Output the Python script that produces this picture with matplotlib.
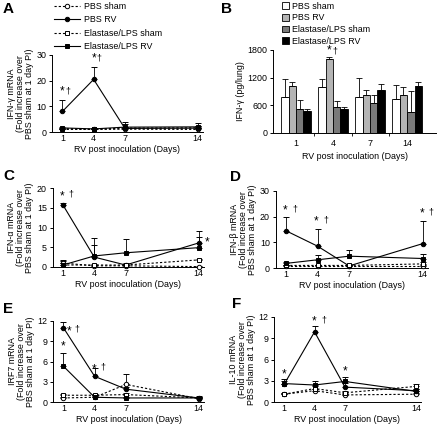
import numpy as np
import matplotlib
matplotlib.use("Agg")
import matplotlib.pyplot as plt
from matplotlib.lines import Line2D
from matplotlib.patches import Patch

plt.rcParams["font.family"] = ["Liberation Sans", "DejaVu Sans"]
plt.rcParams["font.size"] = 6.4

# ── data ─────────────────────────────────────────────────────────────────────
days = [1, 4, 7, 14]
series_names = ["PBS sham", "PBS RV", "Elastase/LPS sham", "Elastase/LPS RV"]

# A: IFN-gamma mRNA
ifng_mean = {
    "PBS sham":          [1.0, 1.0, 1.1, 1.0],
    "PBS RV":            [8.0, 20.5, 1.4, 1.5],
    "Elastase/LPS sham": [1.3, 1.1, 1.5, 1.6],
    "Elastase/LPS RV":   [1.6, 1.2, 1.9, 2.0],
}
ifng_err = {
    "PBS sham":          [0.3, 0.3, 0.5, 0.4],
    "PBS RV":            [4.5, 5.0, 2.5, 1.0],
    "Elastase/LPS sham": [0.4, 0.3, 0.6, 0.8],
    "Elastase/LPS RV":   [0.4, 0.3, 1.2, 1.5],
}

# B: IFN-gamma protein (pg/lung)
prot_mean = {
    "PBS sham":          [780, 990, 770, 740],
    "PBS RV":            [1010, 1610, 820, 830],
    "Elastase/LPS sham": [520, 570, 650, 450],
    "Elastase/LPS RV":   [480, 530, 940, 1030],
}
prot_err = {
    "PBS sham":          [390, 190, 430, 310],
    "PBS RV":            [100, 30, 110, 160],
    "Elastase/LPS sham": [190, 130, 170, 470],
    "Elastase/LPS RV":   [40, 40, 120, 70],
}

# C: IFN-alpha mRNA
ifna_mean = {
    "PBS sham":          [1.0, 0.3, 0.3, 0.1],
    "PBS RV":            [15.7, 2.5, 0.5, 6.1],
    "Elastase/LPS sham": [0.5, 0.5, 0.5, 1.8],
    "Elastase/LPS RV":   [0.5, 2.8, 3.6, 4.9],
}
ifna_err = {
    "PBS sham":          [0.8, 0.2, 0.2, 0.2],
    "PBS RV":            [0.5, 4.8, 0.4, 3.0],
    "Elastase/LPS sham": [0.5, 0.3, 0.3, 0.3],
    "Elastase/LPS RV":   [1.0, 2.7, 3.4, 2.6],
}

# D: IFN-beta mRNA
ifnb_mean = {
    "PBS sham":          [0.8, 0.8, 0.8, 0.8],
    "PBS RV":            [14.5, 8.5, 0.8, 9.5],
    "Elastase/LPS sham": [1.0, 1.0, 1.0, 1.6],
    "Elastase/LPS RV":   [1.8, 3.2, 4.6, 3.7],
}
ifnb_err = {
    "PBS sham":          [0.3, 0.3, 0.3, 0.3],
    "PBS RV":            [5.2, 6.8, 0.5, 9.0],
    "Elastase/LPS sham": [0.3, 0.3, 0.5, 0.8],
    "Elastase/LPS RV":   [0.6, 1.8, 2.6, 1.6],
}

# E: IRF7 mRNA
irf7_mean = {
    "PBS sham":          [0.6, 0.7, 2.6, 0.5],
    "PBS RV":            [11.0, 3.8, 1.9, 0.6],
    "Elastase/LPS sham": [1.0, 1.0, 1.1, 0.6],
    "Elastase/LPS RV":   [5.3, 0.7, 0.6, 0.6],
}
irf7_err = {
    "PBS sham":          [0.2, 0.2, 1.6, 0.2],
    "PBS RV":            [0.8, 1.2, 0.3, 0.2],
    "Elastase/LPS sham": [0.2, 0.2, 0.2, 0.2],
    "Elastase/LPS RV":   [2.0, 0.3, 0.2, 0.3],
}

# F: IL-10 mRNA
il10_mean = {
    "PBS sham":          [1.1, 1.6, 1.0, 1.1],
    "PBS RV":            [2.5, 9.9, 2.1, 1.6],
    "Elastase/LPS sham": [1.1, 1.9, 1.3, 2.2],
    "Elastase/LPS RV":   [2.6, 2.4, 2.9, 1.5],
}
il10_err = {
    "PBS sham":          [0.2, 0.3, 0.2, 0.2],
    "PBS RV":            [0.5, 0.8, 0.6, 0.3],
    "Elastase/LPS sham": [0.2, 0.3, 0.3, 0.4],
    "Elastase/LPS RV":   [0.6, 0.6, 0.7, 0.4],
}

# ── styles ───────────────────────────────────────────────────────────────────
dash = (0, (2.0, 1.8))
line_style = {
    "PBS sham":          dict(ls=dash, marker="o", mfc="white"),
    "PBS RV":            dict(ls="-", marker="o", mfc="black"),
    "Elastase/LPS sham": dict(ls=dash, marker="s", mfc="white"),
    "Elastase/LPS RV":   dict(ls="-", marker="s", mfc="black"),
}
bar_colors = ["white", "#b4b4b4", "#7a7a7a", "black"]

W, H = 437, 424
fig = plt.figure(figsize=(W / 100, H / 100), dpi=100)


def px_axes(left, right, top, bottom):
    return fig.add_axes([left / W, 1 - bottom / H, (right - left) / W, (bottom - top) / H])


def style_axes(ax):
    for s in ["top", "right"]:
        ax.spines[s].set_visible(False)
    for s in ["left", "bottom"]:
        ax.spines[s].set_linewidth(0.7)
    ax.tick_params(length=2.5, width=0.7, pad=1.5, labelsize=6.4)


def line_panel(ax, means, errs, ylim, yticks, ylabel):
    for name in series_names:
        st = line_style[name]
        y = np.array(means[name])
        e = np.array(errs[name])
        ax.errorbar(days, y, yerr=[np.zeros_like(e), e], color="black", lw=0.8,
                    ls=st["ls"], marker=st["marker"], mfc=st["mfc"], mec="black",
                    ms=3.2, mew=0.7, elinewidth=0.6, capsize=2, capthick=0.6,
                    clip_on=False, zorder=3)
    ax.set_xlim(0, 14.5)
    ax.set_ylim(*ylim)
    ax.set_yticks(yticks)
    ax.set_xticks(days)
    ax.set_xlabel("RV post inoculation (Days)", labelpad=1.5)
    ax.set_ylabel(ylabel, linespacing=1.0, labelpad=2)
    style_axes(ax)
    ax.tick_params(axis="x", length=0)


def fold_label(gene):
    return f"{gene} mRNA\n(Fold increase over\nPBS sham at 1 day PI)"


# ── A ───────────────────────────────────────────────────────────────────────
axA = px_axes(52, 203, 55, 132)
line_panel(axA, ifng_mean, ifng_err, (0, 30), [0, 10, 20, 30], fold_label("IFN-γ"))
axA.text(1, 13.3, "*", ha="center", va="bottom", fontsize=8.5)
axA.text(1.5, 14.3, "†", ha="center", va="bottom", fontsize=6.4)
axA.text(4, 26.2, "*", ha="center", va="bottom", fontsize=8.5)
axA.text(4.5, 27.2, "†", ha="center", va="bottom", fontsize=6.4)

# ── B ───────────────────────────────────────────────────────────────────────
axB = px_axes(273, 436, 50, 133)
x = np.arange(len(days))
bw = 0.2
for i, name in enumerate(series_names):
    e = np.array(prot_err[name])
    axB.bar(x + (i - 1.5) * bw, prot_mean[name], bw, color=bar_colors[i],
            edgecolor="black", linewidth=0.6,
            yerr=[np.zeros_like(e), e], capsize=2,
            error_kw=dict(elinewidth=0.6, capthick=0.6, ecolor="black"))
axB.set_xlim(-0.62, 3.78)
axB.set_ylim(0, 1800)
axB.set_yticks([0, 600, 1200, 1800])
axB.set_xticks(x)
axB.set_xticklabels([str(d) for d in days])
axB.set_xticks([0.5, 1.5, 2.5], minor=True)
axB.set_xlabel("RV post inoculation (Days)", labelpad=3)
axB.set_ylabel("IFN-γ (pg/lung)", labelpad=2)
style_axes(axB)
axB.tick_params(axis="x", which="major", length=0, pad=4)
axB.tick_params(axis="x", which="minor", length=2, width=0.6)
axB.text(1 - 0.5 * bw, 1650, "*", ha="center", va="bottom", fontsize=8.5)
axB.text(1 - 0.5 * bw + 0.15, 1690, "†", ha="center", va="bottom", fontsize=6.4)

# ── C ───────────────────────────────────────────────────────────────────────
axC = px_axes(52.5, 204, 188, 267)
line_panel(axC, ifna_mean, ifna_err, (0, 20), [0, 5, 10, 15, 20], fold_label("IFN-α"))
axC.text(0.9, 16.3, "*", ha="center", va="bottom", fontsize=8.5)
axC.text(1.8, 17.3, "†", ha="center", va="bottom", fontsize=6.4)
axC.text(14.6, 4.8, "*", ha="left", va="bottom", fontsize=8.5)

# ── D ───────────────────────────────────────────────────────────────────────
axD = px_axes(275.5, 428, 191, 268)
line_panel(axD, ifnb_mean, ifnb_err, (0, 30), [0, 10, 20, 30], fold_label("IFN-β"))
for d, yv in [(1, 20.2), (4, 15.8), (14, 19.0)]:
    axD.text(d - 0.1, yv, "*", ha="center", va="bottom", fontsize=8.5)
    axD.text(d + 0.8, yv + 1.2, "†", ha="center", va="bottom", fontsize=6.4)

# ── E ───────────────────────────────────────────────────────────────────────
axE = px_axes(53, 204, 321, 402)
line_panel(axE, irf7_mean, irf7_err, (0, 12), [0, 3, 6, 9, 12], fold_label("IRF7"))
axE.text(1.35, 9.6, "*", ha="left", va="bottom", fontsize=8.5)
axE.text(2.3, 10.1, "†", ha="center", va="bottom", fontsize=6.4)
axE.text(1, 7.4, "*", ha="center", va="bottom", fontsize=8.5)
axE.text(3.9, 4.0, "*", ha="center", va="bottom", fontsize=8.5)
axE.text(4.8, 4.5, "†", ha="center", va="bottom", fontsize=6.4)

# ── F ───────────────────────────────────────────────────────────────────────
axF = px_axes(274, 421, 317, 402)
line_panel(axF, il10_mean, il10_err, (0, 12), [0, 3, 6, 9, 12], fold_label("IL-10"))
axF.text(1, 3.0, "*", ha="center", va="bottom", fontsize=8.5)
axF.text(4, 10.5, "*", ha="center", va="bottom", fontsize=8.5)
axF.text(4.9, 11.0, "†", ha="center", va="bottom", fontsize=6.4)
axF.text(7, 3.4, "*", ha="center", va="bottom", fontsize=8.5)

# ── legends ─────────────────────────────────────────────────────────────────
line_handles = [
    Line2D([], [], color="black", lw=0.8, ls=line_style[n]["ls"],
           marker=line_style[n]["marker"], mfc=line_style[n]["mfc"],
           mec="black", ms=3.2, mew=0.7)
    for n in series_names
]
fig.legend(line_handles, series_names, loc="upper left",
           bbox_to_anchor=(52 / W, 1 - 0 / H), frameon=False,
           fontsize=6.4, handlelength=3.0, handletextpad=0.4,
           labelspacing=0.5, borderaxespad=0, borderpad=0.2)

bar_handles = [Patch(facecolor=c, edgecolor="black", linewidth=0.6) for c in bar_colors]
fig.legend(bar_handles, series_names, loc="upper left",
           bbox_to_anchor=(280 / W, 1 - 0 / H), frameon=False,
           fontsize=6.4, handlelength=0.8, handleheight=0.8, handletextpad=0.4,
           labelspacing=0.3, borderaxespad=0, borderpad=0.2)

# ── panel letters ───────────────────────────────────────────────────────────
for lab, (px, py) in {"A": (3, 2), "B": (221, 2), "C": (3, 169),
                      "D": (230, 170), "E": (3, 302), "F": (232, 297)}.items():
    fig.text(px / W, 1 - py / H, lab, fontsize=11, fontweight="bold",
             ha="left", va="top")

fig.savefig("out.png", dpi=100)
